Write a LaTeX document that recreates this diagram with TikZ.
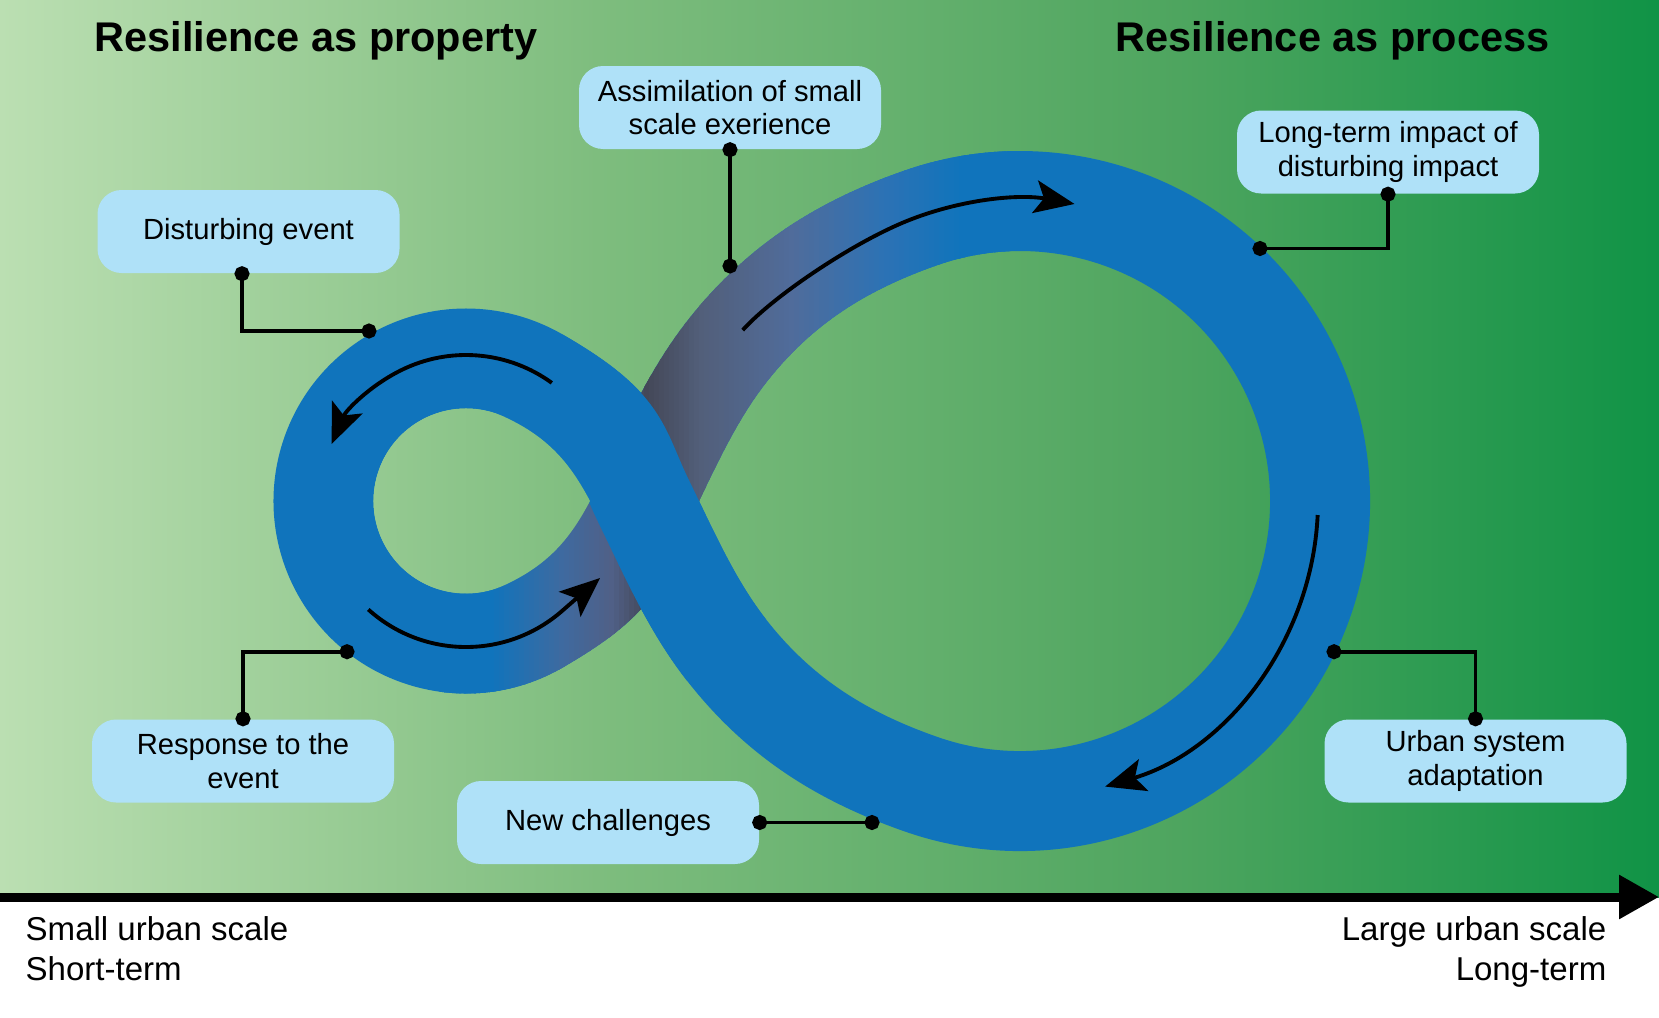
\documentclass[tikz,border=0pt]{standalone}
\usepackage{fontspec}
\setmainfont{Liberation Sans}
\usetikzlibrary{arrows.meta,calc}

\definecolor{bandblue}{RGB}{16,116,188}
\definecolor{boxblue}{RGB}{175,225,248}
\definecolor{bgA}{RGB}{187,223,178}
\definecolor{bgB}{RGB}{126,189,126}
\definecolor{bgC}{RGB}{78,165,95}
\definecolor{bgD}{RGB}{16,147,70}
\definecolor{gs0}{RGB}{16,116,188}
\definecolor{gs1}{RGB}{62,106,160}
\definecolor{gs2}{RGB}{80,96,135}
\definecolor{gs3}{RGB}{68,72,88}
\definecolor{gs4}{RGB}{82,95,122}
\definecolor{gs5}{RGB}{80,108,155}
\definecolor{gs6}{RGB}{45,114,180}

\pgfdeclarehorizontalshading{bggreen}{100bp}{color(0bp)=(bgA); color(25bp)=(bgA); color(43bp)=(bgB); color(60.5bp)=(bgC); color(75bp)=(bgD); color(100bp)=(bgD)}

\tikzset{
  infobox/.style={rounded corners=2.4mm, fill=boxblue, minimum width=30.2mm, minimum height=8.3mm, align=center, inner sep=0pt, font=\fontsize{8.3}{9.6}\selectfont},
  bandline/.style={line width=10mm},
  flow/.style={line width=1.1pt, -{Stealth[length=4mm, width=3.3mm, inset=0.9mm]}},
  lead/.style={line width=1.1pt, {Circle[length=1.5mm]}-{Circle[length=1.5mm]}, shorten <=-0.75mm, shorten >=-0.75mm},
  heading/.style={font=\bfseries\fontsize{11.8}{14}\selectfont, inner sep=0pt},
  scalelabel/.style={font=\fontsize{9.4}{11.4}\selectfont, inner sep=0pt},
}

\begin{document}
\begin{tikzpicture}[x=0.1mm, y=0.1mm]
  \useasboundingbox (0,0) rectangle (1659,1017);
  \fill[white] (0,0) rectangle (1659,1017);
  \shade[shading=bggreen] (0,120) rectangle (1659,1017);

  \coordinate (c1) at (466,516);
  \coordinate (c2) at (1020,516);
  \coordinate (x) at (643.5,516);

  % whole band
  \draw[bandline, bandblue] (x) .. controls (668.5,464.8) and (691.4,411.9) .. (726.5,367)
    .. controls (778.9,300) and (841.2,260.7) .. (921.35,232.7)
    arc[start angle=-109.2, end angle=109.2, radius=300]
    .. controls (841.2,771.3) and (778.9,732) .. (726.5,665)
    .. controls (691.4,620.1) and (668.5,567.2) .. (x)
    .. controls (617.2,462.1) and (623.85,442.6) .. (537.25,392.6)
    arc[start angle=300, end angle=60, radius=142.5]
    .. controls (623.85,589.4) and (617.2,569.9) .. (x);

  % back part, shaded strip by strip
  \def\backpath{($(c1)+(245:142.5)$) arc[start angle=245, end angle=300, radius=142.5]
    .. controls (623.85,442.6) and (617.2,462.1) .. (x)
    .. controls (668.5,567.2) and (691.4,620.1) .. (726.5,665)
    .. controls (778.9,732) and (841.2,771.3) .. (921.35,799.3)
    arc[start angle=109.2, end angle=80, radius=300]}
  \def\lowfill{($(c1)+(-70:85)$) arc[start angle=-70, end angle=0, radius=85]
    -- ($(c1)+(0:165)$) arc[start angle=0, end angle=-70, radius=165] -- cycle}
  \foreach \xa/\xb/\ca/\cb in {440/490/gs0/gs0, 490/560/gs0/gs1, 560/610/gs1/gs2, 610/645/gs2/gs3, 645/700/gs3/gs4, 700/790/gs4/gs5, 790/880/gs5/gs6, 880/960/gs6/gs0, 960/1005/gs0/gs0} {
    \pgfmathtruncatemacro\xn{\xa+5}
    \foreach \xs in {\xa,\xn,...,\xb} {
      \pgfmathtruncatemacro\p{100*(\xs-\xa)/(\xb-\xa)}
      \colorlet{stripcol}{\cb!\p!\ca}
      \begin{scope}
        \clip (\xs-1,0) rectangle (\xs+6,1017);
        \draw[bandline, stripcol] \backpath;
        \fill[stripcol] \lowfill;
      \end{scope}
    }
  }

  % front part on top
  \draw[bandline, bandblue] (537.25,639.4) .. controls (623.85,589.4) and (617.2,569.9) .. (x)
    .. controls (668.5,464.8) and (691.4,411.9) .. (726.5,367);
  \fill[bandblue] ($(c1)+(0:85)$) arc[start angle=0, end angle=70, radius=85]
    -- ($(c1)+(70:165)$) arc[start angle=70, end angle=0, radius=165] -- cycle;

  % drop-shaped hole of the small loop
  \begin{scope}
    \clip (505.1,599.8) .. controls (550.4,578.7) and (571.2,551.3) .. (590,516)
      .. controls (571.2,480.7) and (550.4,453.3) .. (505.1,432.2)
      arc[start angle=-65, end angle=-295, radius=92.5] -- cycle;
    \shade[shading=bggreen] (0,120) rectangle (1659,1017);
  \end{scope}

  % direction arrows
  \draw[flow] ($(c1)+(54:146)$) arc[start angle=54, end angle=157, radius=146];
  \draw[flow] ($(c1)+(228:146)$) arc[start angle=228, end angle=310, radius=146] -- (600,439);
  \draw[flow] (742.7,686.9) .. controls (772.8,720.3) and (851.3,773.5) .. ($(c2)+(112:302)$)
    arc[start angle=112, end angle=79.6, radius=302];
  \draw[flow] ($(c2)+(-2.7:298)$) arc[start angle=-2.7, end angle=-73.4, radius=298];

  % labels
  \node[infobox] (disturb) at (248.5,785.5) {Disturbing event};
  \node[infobox] (assim) at (730,909.5) {Assimilation of small\\scale exerience};
  \node[infobox] (longterm) at (1388,865) {Long-term impact of\\disturbing impact};
  \node[infobox] (response) at (243,256) {Response to the\\event};
  \node[infobox] (newch) at (608,194.5) {New challenges};
  \node[infobox] (urban) at (1475.5,256) {Urban system\\adaptation};

  \coordinate (pdisturb) at (369,686);
  \coordinate (passim) at (730,751);
  \coordinate (plong) at (1260,768.5);
  \coordinate (presp) at (347,365.3);
  \coordinate (pnew) at (872,194.5);
  \coordinate (purban) at (1334,365.3);

  \draw[lead] ([xshift=-0.65mm]disturb.south) |- (pdisturb);
  \draw[lead] (assim.south) -- (passim);
  \draw[lead] (longterm.south) |- (plong);
  \draw[lead] (response.north) |- (presp);
  \draw[lead] (newch.east) -- (pnew);
  \draw[lead] (urban.north) |- (purban);

  \node[heading, anchor=base west] (tprop) at (94,965) {Resilience as property};
  \node[heading, anchor=base east] (tproc) at (1550,965) {Resilience as process};

  % scale axis
  \coordinate (axl) at (0,120);
  \coordinate (axr) at (1659,120);
  \draw[line width=0.9mm, -{Triangle[length=4mm, width=4.2mm]}] (axl) -- (axr);
  \node[scalelabel, anchor=base west] (smallsc) at (25,77) {Small urban scale};
  \node[scalelabel, anchor=base west] (shortt) at (25,37) {Short-term};
  \node[scalelabel, anchor=base east] (largesc) at (1607,77) {Large urban scale};
  \node[scalelabel, anchor=base east] (longt) at (1607,37) {Long-term};
\end{tikzpicture}
\end{document}
